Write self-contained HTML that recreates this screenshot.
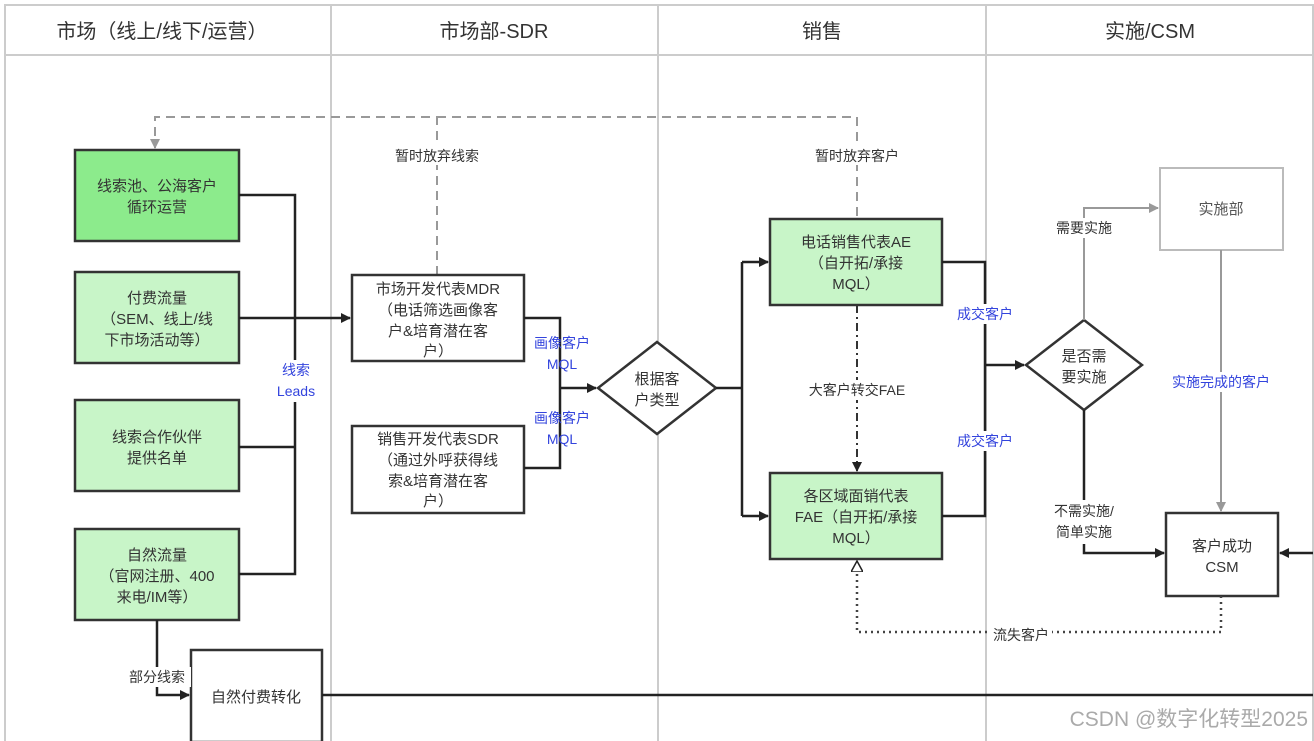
<!DOCTYPE html>
<html><head><meta charset="utf-8"><style>
html,body{margin:0;padding:0;background:#fff;}
svg{display:block;font-family:"Liberation Sans","Noto Sans CJK SC",sans-serif;}
</style></head><body>
<svg width="1314" height="741" viewBox="0 0 1314 741" xmlns="http://www.w3.org/2000/svg">
<defs>
<marker id="a" markerWidth="10" markerHeight="10" refX="9" refY="5" orient="auto" markerUnits="userSpaceOnUse"><path d="M0,0 L10,5 L0,10 z" fill="#222"/></marker>
<marker id="ag" markerWidth="10" markerHeight="10" refX="9" refY="5" orient="auto" markerUnits="userSpaceOnUse"><path d="M0,0 L10,5 L0,10 z" fill="#999"/></marker>
<marker id="ao" markerWidth="12" markerHeight="12" refX="10" refY="6" orient="auto" markerUnits="userSpaceOnUse"><path d="M0,0 L11,6 L0,12 z" fill="#fff" stroke="#222" stroke-width="1.5"/></marker>
</defs>
<rect width="1314" height="741" fill="#fff"/>
<!-- lanes -->
<g stroke="#ccc" stroke-width="2" fill="none">
<rect x="5" y="5" width="1308" height="740"/>
<line x1="5" y1="55" x2="1313" y2="55"/>
<line x1="331" y1="5" x2="331" y2="741"/>
<line x1="658" y1="5" x2="658" y2="741"/>
<line x1="986" y1="5" x2="986" y2="741"/>
</g>
<g font-size="20" fill="#333" text-anchor="middle">
<text x="162" y="38">市场（线上/线下/运营）</text>
<text x="494" y="38">市场部-SDR</text>
<text x="822" y="38">销售</text>
<text x="1150" y="38">实施/CSM</text>
</g>
<!-- dashed feedback -->
<g stroke="#999" stroke-width="2" fill="none" stroke-dasharray="9,6">
<polyline points="437,275 437,117 155,117 155,148" marker-end="url(#ag)"/>
<polyline points="437,117 857,117 857,219"/>
</g>
<!-- boxes -->
<g stroke="#333" stroke-width="2.5">
<rect x="75" y="150" width="164" height="91" fill="#8ceb8c"/>
<rect x="75" y="272" width="164" height="91" fill="#c8f5c8"/>
<rect x="75" y="400" width="164" height="91" fill="#c8f5c8"/>
<rect x="75" y="529" width="164" height="91" fill="#c8f5c8"/>
<rect x="191" y="650" width="131" height="92" fill="#fff"/>
<rect x="352" y="275" width="172" height="86" fill="#fff"/>
<rect x="352" y="426" width="172" height="87" fill="#fff"/>
<rect x="770" y="219" width="172" height="86" fill="#c8f5c8"/>
<rect x="770" y="473" width="172" height="86" fill="#c8f5c8"/>
<rect x="1166" y="513" width="112" height="83" fill="#fff"/>
<polygon points="657,342 716,388 657,434 598,388" fill="#fff"/>
<polygon points="1084,320 1142,365 1084,410 1026,365" fill="#fff"/>
</g>
<rect x="1160" y="168" width="123" height="82" fill="#fff" stroke="#bbb" stroke-width="2"/>
<!-- solid connectors -->
<g stroke="#222" stroke-width="2.5" fill="none">
<polyline points="239,195 295,195 295,574 239,574"/>
<line x1="239" y1="447" x2="295" y2="447"/>
<line x1="239" y1="318" x2="350" y2="318" marker-end="url(#a)"/>
<polyline points="524,318 560,318 560,468 524,468"/>
<line x1="560" y1="388" x2="596" y2="388" marker-end="url(#a)"/>
<polyline points="716,388 742,388"/>
<line x1="742" y1="262" x2="742" y2="516"/>
<line x1="742" y1="262" x2="768" y2="262" marker-end="url(#a)"/>
<line x1="742" y1="516" x2="768" y2="516" marker-end="url(#a)"/>
<polyline points="942,262 985,262 985,516 942,516"/>
<line x1="985" y1="365" x2="1024" y2="365" marker-end="url(#a)"/>
<polyline points="1084,410 1084,553 1164,553" marker-end="url(#a)"/>
<line x1="1313" y1="553" x2="1280" y2="553" marker-end="url(#a)"/>
<polyline points="157,620 157,695 189,695" marker-end="url(#a)"/>
<line x1="322" y1="695" x2="1313" y2="695"/>
</g>
<g stroke="#999" stroke-width="2" fill="none">
<polyline points="1084,320 1084,208 1158,208" marker-end="url(#ag)"/>
<line x1="1221" y1="250" x2="1221" y2="511" marker-end="url(#ag)"/>
</g>
<line x1="857" y1="305" x2="857" y2="471" stroke="#333" stroke-width="2" stroke-dasharray="8,4,2,4" marker-end="url(#a)"/>
<polyline points="1221,596 1221,632 857,632 857,562" stroke="#444" stroke-width="2.5" fill="none" stroke-dasharray="2,4" marker-end="url(#ao)"/>
<!-- box text -->
<g font-size="15" fill="#333" text-anchor="middle">
<text x="157" y="191">线索池、公海客户</text><text x="157" y="212">循环运营</text>
<text x="157" y="303">付费流量</text><text x="157" y="324">（SEM、线上/线</text><text x="157" y="345">下市场活动等）</text>
<text x="157" y="442">线索合作伙伴</text><text x="157" y="463">提供名单</text>
<text x="157" y="560">自然流量</text><text x="157" y="581">（官网注册、400</text><text x="157" y="602">来电/IM等）</text>
<text x="256" y="702">自然付费转化</text>
<text x="438" y="294">市场开发代表MDR</text><text x="438" y="315">（电话筛选画像客</text><text x="438" y="336">户&amp;培育潜在客</text><text x="438" y="356">户）</text>
<text x="438" y="444">销售开发代表SDR</text><text x="438" y="465">（通过外呼获得线</text><text x="438" y="486">索&amp;培育潜在客</text><text x="438" y="506">户）</text>
<text x="657" y="384">根据客</text><text x="657" y="405">户类型</text>
<text x="856" y="247">电话销售代表AE</text><text x="856" y="268">（自开拓/承接</text><text x="856" y="289">MQL）</text>
<text x="856" y="501">各区域面销代表</text><text x="856" y="522">FAE（自开拓/承接</text><text x="856" y="543">MQL）</text>
<text x="1084" y="361">是否需</text><text x="1084" y="382">要实施</text>
<text x="1221" y="214" fill="#555">实施部</text>
<text x="1222" y="551">客户成功</text><text x="1222" y="572">CSM</text>
</g>
<!-- labels -->
<g font-size="14" fill="#333" text-anchor="middle">
<rect x="385" y="145" width="105" height="20" fill="#fff"/>
<text x="437" y="161">暂时放弃线索</text>
<rect x="805" y="145" width="105" height="20" fill="#fff"/>
<text x="857" y="161">暂时放弃客户</text>
<rect x="790" y="380" width="130" height="20" fill="#fff"/>
<text x="857" y="395">大客户转交FAE</text>
<rect x="1048" y="218" width="72" height="20" fill="#fff"/>
<text x="1084" y="233">需要实施</text>
<rect x="1040" y="500" width="88" height="44" fill="#fff"/>
<text x="1084" y="516">不需实施/</text><text x="1084" y="537">简单实施</text>
<rect x="990" y="625" width="62" height="20" fill="#fff"/>
<text x="1021" y="640">流失客户</text>
<rect x="123" y="667" width="68" height="20" fill="#fff"/>
<text x="157" y="682">部分线索</text>
</g>
<g font-size="14" fill="#3344dd" text-anchor="middle">
<rect x="272" y="360" width="48" height="42" fill="#fff"/>
<text x="296" y="375">线索</text><text x="296" y="396">Leads</text>
<text x="562" y="348">画像客户</text><text x="562" y="369">MQL</text>
<text x="562" y="423">画像客户</text><text x="562" y="444">MQL</text>
<rect x="950" y="304" width="70" height="20" fill="#fff"/>
<text x="985" y="319">成交客户</text>
<rect x="950" y="431" width="70" height="20" fill="#fff"/>
<text x="985" y="446">成交客户</text>
<rect x="1160" y="372" width="122" height="20" fill="#fff"/>
<text x="1221" y="387">实施完成的客户</text>
</g>
<text x="1308" y="726" font-size="21" fill="#aaa" text-anchor="end">CSDN @数字化转型2025</text>
</svg>
</body></html>
